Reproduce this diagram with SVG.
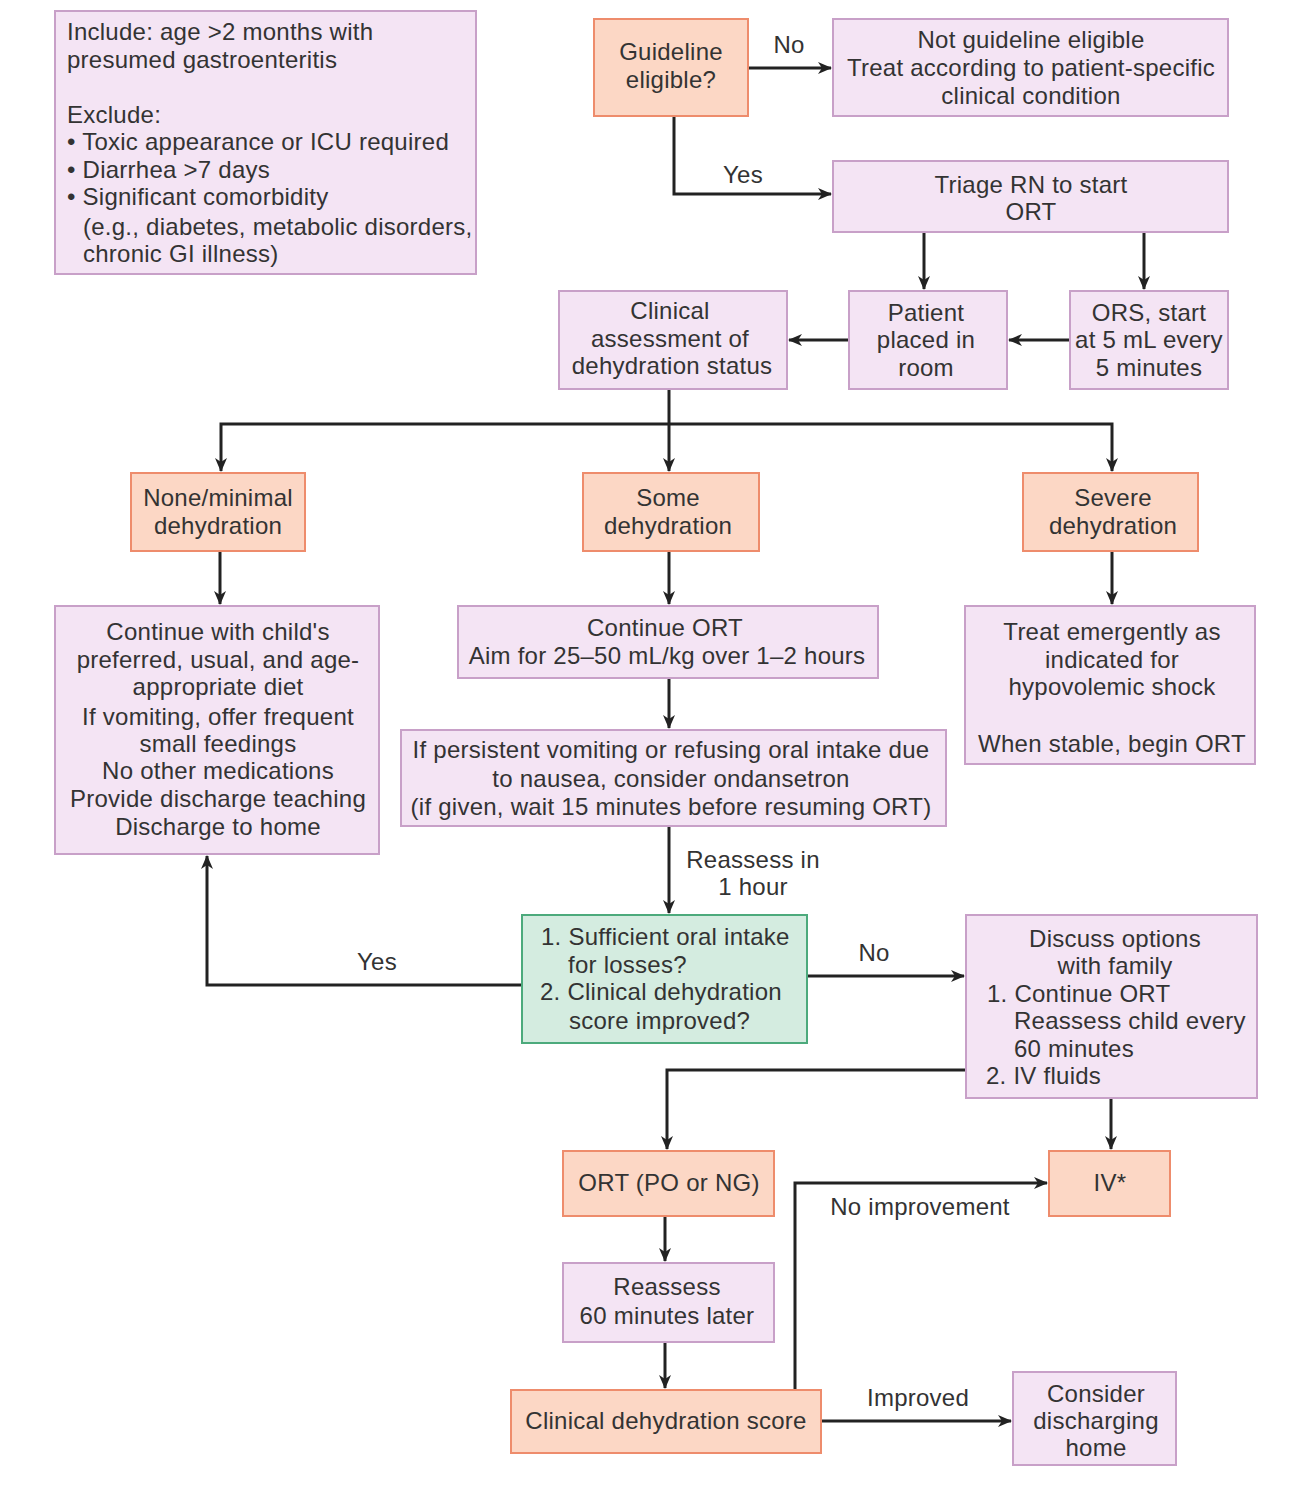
<svg xmlns="http://www.w3.org/2000/svg" width="1306" height="1490" viewBox="0 0 1306 1490">
<style>
.p{fill:#f4e4f4;stroke:#c8a0c8;stroke-width:2}
.o{fill:#fcd7c5;stroke:#ee8c6c;stroke-width:2}
.g{fill:#d4ece0;stroke:#4caa7c;stroke-width:2}
text{font-family:"Liberation Sans",Arial,sans-serif;font-size:24px;letter-spacing:0.25px;fill:#333}
.c{text-anchor:middle}
.e{fill:none;stroke:#222;stroke-width:3}
</style>
<defs>
<marker id="a" markerUnits="userSpaceOnUse" markerWidth="14" markerHeight="12" refX="13" refY="6" orient="auto">
<path d="M0,0 L14,6 L0,12 L4,6 Z" fill="#222"/>
</marker>
</defs>
<rect width="1306" height="1490" fill="#fff"/>
<g id="connectors">
<path class="e" d="M748,68 H831" marker-end="url(#a)"/>
<path class="e" d="M674,116 V194 H831" marker-end="url(#a)"/>
<path class="e" d="M924,232 V289" marker-end="url(#a)"/>
<path class="e" d="M1144,232 V289" marker-end="url(#a)"/>
<path class="e" d="M1070,340 H1009" marker-end="url(#a)"/>
<path class="e" d="M849,340 H789" marker-end="url(#a)"/>
<path class="e" d="M669,389 V471" marker-end="url(#a)"/>
<path class="e" d="M669,424 H221 V471" marker-end="url(#a)"/>
<path class="e" d="M669,424 H1112 V471" marker-end="url(#a)"/>
<path class="e" d="M220,551 V604" marker-end="url(#a)"/>
<path class="e" d="M669,551 V604" marker-end="url(#a)"/>
<path class="e" d="M1112,551 V604" marker-end="url(#a)"/>
<path class="e" d="M669,678 V728" marker-end="url(#a)"/>
<path class="e" d="M669,826 V913" marker-end="url(#a)"/>
<path class="e" d="M522,985 H207 V856" marker-end="url(#a)"/>
<path class="e" d="M807,976 H964" marker-end="url(#a)"/>
<path class="e" d="M966,1070 H667 V1149" marker-end="url(#a)"/>
<path class="e" d="M1111,1098 V1149" marker-end="url(#a)"/>
<path class="e" d="M665,1216 V1261" marker-end="url(#a)"/>
<path class="e" d="M665,1342 V1388" marker-end="url(#a)"/>
<path class="e" d="M795,1390 V1183 H1047" marker-end="url(#a)"/>
<path class="e" d="M821,1421 H1011" marker-end="url(#a)"/>
<text class="c" x="789" y="53">No</text>
<text class="c" x="743" y="183">Yes</text>
<text class="c" x="753" y="868">Reassess in</text>
<text class="c" x="753" y="895">1 hour</text>
<text class="c" x="377" y="970">Yes</text>
<text class="c" x="874" y="961">No</text>
<text class="c" x="920" y="1215">No improvement</text>
<text class="c" x="918" y="1406">Improved</text>
</g>
<g id="criteria">
<rect class="p" x="55" y="11" width="421" height="263"/>
<text x="67" y="40">Include: age &gt;2 months with</text>
<text x="67" y="68">presumed gastroenteritis</text>
<text x="67" y="123">Exclude:</text>
<text x="67" y="150">• Toxic appearance or ICU required</text>
<text x="67" y="178">• Diarrhea &gt;7 days</text>
<text x="67" y="205">• Significant comorbidity</text>
<text x="83" y="235">(e.g., diabetes, metabolic disorders,</text>
<text x="83" y="262">chronic GI illness)</text>
</g>
<g id="eligible">
<rect class="o" x="594" y="19" width="154" height="97"/>
<text class="c" x="671" y="60">Guideline</text>
<text class="c" x="671" y="88">eligible?</text>
</g>
<g id="not-eligible">
<rect class="p" x="833" y="19" width="395" height="97"/>
<text class="c" x="1031" y="48">Not guideline eligible</text>
<text class="c" x="1031" y="76">Treat according to patient-specific</text>
<text class="c" x="1031" y="104">clinical condition</text>
</g>
<g id="triage">
<rect class="p" x="833" y="161" width="395" height="71"/>
<text class="c" x="1031" y="193">Triage RN to start</text>
<text class="c" x="1031" y="220">ORT</text>
</g>
<g id="assessment">
<rect class="p" x="559" y="291" width="228" height="98"/>
<text class="c" x="670" y="319">Clinical</text>
<text class="c" x="670" y="347">assessment of</text>
<text class="c" x="672" y="374">dehydration status</text>
</g>
<g id="room">
<rect class="p" x="849" y="291" width="158" height="98"/>
<text class="c" x="926" y="321">Patient</text>
<text class="c" x="926" y="348">placed in</text>
<text class="c" x="926" y="376">room</text>
</g>
<g id="ors">
<rect class="p" x="1070" y="291" width="158" height="98"/>
<text class="c" x="1149" y="321">ORS, start</text>
<text class="c" x="1149" y="348">at 5 mL every</text>
<text class="c" x="1149" y="376">5 minutes</text>
</g>
<g id="none">
<rect class="o" x="131" y="473" width="174" height="78"/>
<text class="c" x="218" y="506">None/minimal</text>
<text class="c" x="218" y="534">dehydration</text>
</g>
<g id="some">
<rect class="o" x="583" y="473" width="176" height="78"/>
<text class="c" x="668" y="506">Some</text>
<text class="c" x="668" y="534">dehydration</text>
</g>
<g id="severe">
<rect class="o" x="1023" y="473" width="175" height="78"/>
<text class="c" x="1113" y="506">Severe</text>
<text class="c" x="1113" y="534">dehydration</text>
</g>
<g id="diet">
<rect class="p" x="55" y="606" width="324" height="248"/>
<text class="c" x="218" y="640">Continue with child's</text>
<text class="c" x="218" y="668">preferred, usual, and age-</text>
<text class="c" x="218" y="695">appropriate diet</text>
<text class="c" x="218" y="725">If vomiting, offer frequent</text>
<text class="c" x="218" y="752">small feedings</text>
<text class="c" x="218" y="779">No other medications</text>
<text class="c" x="218" y="807">Provide discharge teaching</text>
<text class="c" x="218" y="835">Discharge to home</text>
</g>
<g id="continue-ort">
<rect class="p" x="458" y="606" width="420" height="72"/>
<text class="c" x="665" y="636">Continue ORT</text>
<text class="c" x="667" y="664">Aim for 25–50 mL/kg over 1–2 hours</text>
</g>
<g id="emergent">
<rect class="p" x="965" y="606" width="290" height="158"/>
<text class="c" x="1112" y="640">Treat emergently as</text>
<text class="c" x="1112" y="668">indicated for</text>
<text class="c" x="1112" y="695">hypovolemic shock</text>
<text class="c" x="1112" y="752">When stable, begin ORT</text>
</g>
<g id="ondansetron">
<rect class="p" x="401" y="730" width="545" height="96"/>
<text class="c" x="671" y="758">If persistent vomiting or refusing oral intake due</text>
<text class="c" x="671" y="787">to nausea, consider ondansetron</text>
<text class="c" x="671" y="815">(if given, wait 15 minutes before resuming ORT)</text>
</g>
<g id="check">
<rect class="g" x="522" y="915" width="285" height="128"/>
<text x="541" y="945">1. Sufficient oral intake</text>
<text x="568" y="973">for losses?</text>
<text x="540" y="1000">2. Clinical dehydration</text>
<text x="569" y="1029">score improved?</text>
</g>
<g id="discuss">
<rect class="p" x="966" y="915" width="291" height="183"/>
<text class="c" x="1115" y="947">Discuss options</text>
<text class="c" x="1115" y="974">with family</text>
<text x="987" y="1002">1. Continue ORT</text>
<text x="1014" y="1029">Reassess child every</text>
<text x="1014" y="1057">60 minutes</text>
<text x="986" y="1084">2. IV fluids</text>
</g>
<g id="ort-po">
<rect class="o" x="563" y="1151" width="211" height="65"/>
<text class="c" x="669" y="1191">ORT (PO or NG)</text>
</g>
<g id="iv">
<rect class="o" x="1049" y="1151" width="121" height="65"/>
<text class="c" x="1110" y="1191">IV*</text>
</g>
<g id="reassess">
<rect class="p" x="563" y="1263" width="211" height="79"/>
<text class="c" x="667" y="1295">Reassess</text>
<text class="c" x="667" y="1324">60 minutes later</text>
</g>
<g id="score">
<rect class="o" x="511" y="1390" width="310" height="63"/>
<text class="c" x="666" y="1429">Clinical dehydration score</text>
</g>
<g id="discharge">
<rect class="p" x="1013" y="1372" width="163" height="93"/>
<text class="c" x="1096" y="1402">Consider</text>
<text class="c" x="1096" y="1429">discharging</text>
<text class="c" x="1096" y="1456">home</text>
</g>
</svg>
